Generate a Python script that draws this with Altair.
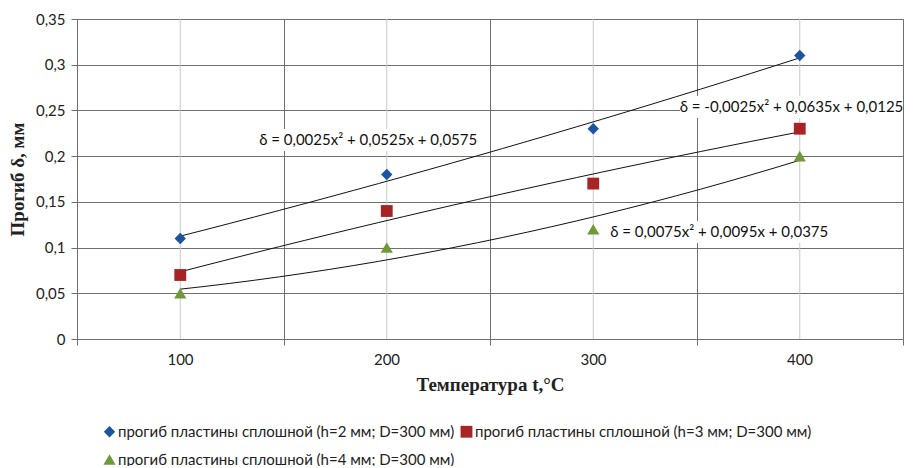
import altair as alt
import pandas as pd

temps = [100, 200, 300, 400]
series_names = [
    "прогиб пластины сплошной (h=2 мм; D=300 мм)",
    "прогиб пластины сплошной (h=3 мм; D=300 мм)",
    "прогиб пластины сплошной (h=4 мм; D=300 мм)",
]
s1 = [0.11, 0.18, 0.23, 0.31]
s2 = [0.07, 0.14, 0.17, 0.23]
s3 = [0.05, 0.10, 0.12, 0.20]
colors = ["#1C54A0", "#A82424", "#6E9A3A"]
shapes = ["diamond", "square", "triangle-up"]
marker_sizes = [130, 150, 210]
minor_grid = [100, 200, 300, 400]
eq_texts = [
    "δ = 0,0025x² + 0,0525x + 0,0575",
    "δ = -0,0025x² + 0,0635x + 0,0125",
    "δ = 0,0075x² + 0,0095x + 0,0375",
]
eq_x = [191, 396, 361]
eq_y = [0.2177, 0.2538, 0.117]
eq_half_w = [55, 54, 54]
eq_half_h = [0.012, 0.012, 0.012]

rows = []
for name, vals in zip(series_names, [s1, s2, s3]):
    for t, v in zip(temps, vals):
        rows.append({"t": t, "v": v, "series": name})
df = pd.DataFrame(rows)

eq = pd.DataFrame({
    "x": eq_x, "y": eq_y, "text": eq_texts,
    "x1": [a - b for a, b in zip(eq_x, eq_half_w)],
    "x2": [a + b for a, b in zip(eq_x, eq_half_w)],
    "y1": [a - b for a, b in zip(eq_y, eq_half_h)],
    "y2": [a + b for a, b in zip(eq_y, eq_half_h)],
})

xscale = alt.Scale(domain=[50, 450], nice=False, zero=False)
yscale = alt.Scale(domain=[0, 0.35], nice=False)

x_axis = alt.Axis(
    values=[50, 150, 250, 350, 450],
    labelExpr="datum.value == 450 ? '' : '' + (datum.value + 50)",
    labelOffset=103, labelPadding=7, labelFlush=False, labelOverlap=False,
    tickSize=6, tickColor="#6F6F6F", domainColor="#6F6F6F",
    grid=True, gridColor="#6F6F6F", gridWidth=1,
    labelFont="Lato", labelFontSize=15, labelColor="#222",
    title="Температура t,°C", titleFont="Liberation Serif", titleFontSize=19,
    titleFontWeight="bold", titleColor="#222", titlePadding=8,
)
y_axis = alt.Axis(
    values=[0, 0.05, 0.1, 0.15, 0.2, 0.25, 0.3, 0.35],
    labelExpr="replace(format(datum.value, '~g'), '.', ',')",
    labelFlush=False, labelOverlap=False,
    tickSize=6, tickColor="#6F6F6F", domainColor="#6F6F6F",
    grid=True, gridColor="#6F6F6F", gridWidth=1,
    labelFont="Lato", labelFontSize=15, labelColor="#222", labelPadding=6,
    title="Прогиб δ, мм", titleFont="Liberation Serif", titleFontSize=19,
    titleFontWeight="bold", titleColor="#222", titlePadding=8,
)

minor = alt.Chart(pd.DataFrame({"g": minor_grid})).mark_rule(
    color="#C8C8C8", strokeWidth=1
).encode(x=alt.X("g:Q", scale=xscale, axis=x_axis))

base = alt.Chart(df)

trend = base.transform_regression(
    "t", "v", groupby=["series"], method="poly", order=2, extent=[100, 400]
).mark_line(color="#111", strokeWidth=1).encode(
    x=alt.X("t:Q", scale=xscale),
    y=alt.Y("v:Q", scale=yscale, axis=y_axis),
    detail="series:N",
)

points = base.mark_point(filled=True, opacity=1, strokeWidth=0.8).encode(
    x=alt.X("t:Q", scale=xscale),
    y=alt.Y("v:Q", scale=yscale),
    color=alt.Color(
        "series:N",
        scale=alt.Scale(domain=series_names, range=colors),
        legend=alt.Legend(
            title=None, orient="none", legendX=25, legendY=405, columns=2,
            direction="horizontal", labelLimit=500,
            columnPadding=4, rowPadding=12, labelFont="Lato", labelFontSize=15,
            labelColor="#222", labelOffset=1,
        ),
    ),
    shape=alt.Shape("series:N", scale=alt.Scale(domain=series_names, range=shapes)),
    size=alt.Size("series:N", scale=alt.Scale(domain=series_names, range=marker_sizes)),
)

bg = alt.Chart(eq).mark_rect(color="white").encode(
    x=alt.X("x1:Q", scale=xscale), x2="x2:Q",
    y=alt.Y("y1:Q", scale=yscale), y2="y2:Q",
)
labels = alt.Chart(eq).mark_text(
    font="Lato", fontSize=15, color="#111", align="center", baseline="middle"
).encode(
    x=alt.X("x:Q", scale=xscale),
    y=alt.Y("y:Q", scale=yscale),
    text="text:N",
)

chart = alt.layer(minor, trend, points, bg, labels).properties(
    width=826, height=320,
    autosize=alt.AutoSizeParams(type="none"),
    padding={"left": 69, "top": 11, "right": 3, "bottom": 127},
).configure_view(stroke="#6F6F6F").configure(background="white")

chart.save("out.html", embed_options={"renderer": "svg", "actions": False})
